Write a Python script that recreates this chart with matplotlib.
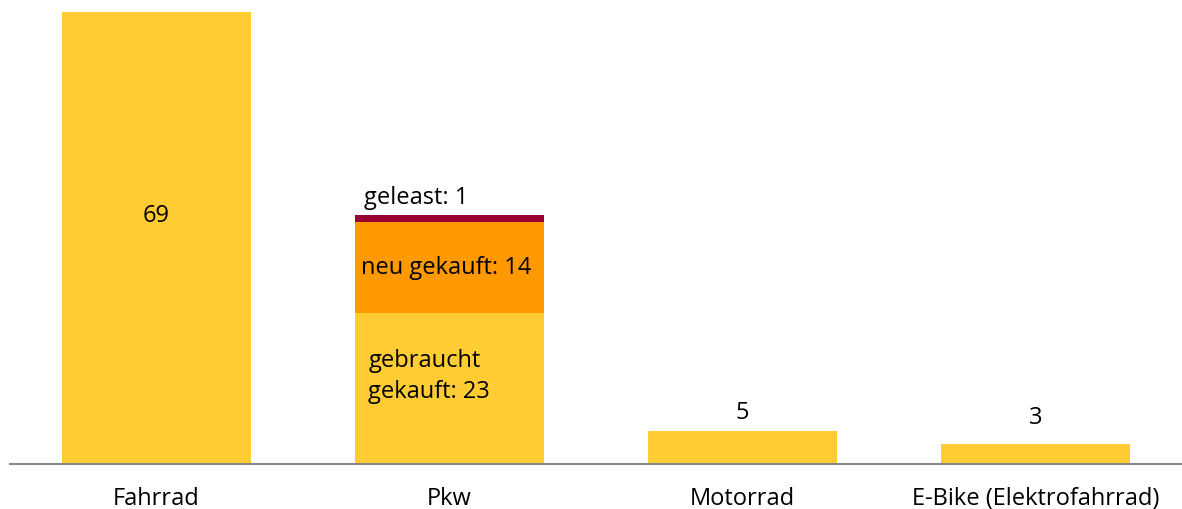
import matplotlib.pyplot as plt
import numpy as np

plt.rcParams['font.family'] = ['Open Sans', 'DejaVu Sans']

kategorien = ["Fahrrad", "Pkw", "Motorrad", "E-Bike (Elektrofahrrad)"]
gesamt = [69, 0, 5, 3]
pkw_gebraucht = 23
pkw_neu = 14
pkw_geleast = 1

gelb = "#FFCC33"
orange = "#FF9900"
rot = "#990033"

fig = plt.figure(figsize=(11.82, 5.10), dpi=100)
ax = fig.add_axes([10 / 1182, 45 / 510, 1172 / 1182, 452 / 510])

x = np.arange(len(kategorien))
breite = 0.645

ax.bar(x, gesamt, width=breite, color=gelb)
ax.bar(x[1], pkw_gebraucht, width=breite, color=gelb)
ax.bar(x[1], pkw_neu, bottom=pkw_gebraucht, width=breite, color=orange)
ax.bar(x[1], pkw_geleast, bottom=pkw_gebraucht + pkw_neu, width=breite, color=rot)

fs = 17
ax.text(x[0], 38, str(gesamt[0]), ha='center', va='center', fontsize=fs)
links = x[1] - breite / 2 + 0.045
ax.text(links, 13.5, "gebraucht\ngekauft: 23", ha='left', va='center',
        fontsize=fs, linespacing=1.35)
ax.text(x[1] - breite / 2 + 0.02, pkw_gebraucht + pkw_neu / 2, "neu gekauft: 14",
        ha='left', va='center', fontsize=fs)
ax.text(x[1] - breite / 2 + 0.03, 40.8, "geleast: 1", ha='left', va='center', fontsize=fs)
ax.text(x[2], gesamt[2] + 2.9, str(gesamt[2]), ha='center', va='center', fontsize=fs)
ax.text(x[3], gesamt[3] + 4.2, str(gesamt[3]), ha='center', va='center', fontsize=fs)

ax.set_xlim(-0.5, 3.5)
ax.set_ylim(0, 69)
ax.set_xticks(x)
ax.set_xticklabels(kategorien, fontsize=fs)
ax.tick_params(axis='x', length=0, pad=16)
ax.set_yticks([])
for s in ['top', 'right', 'left']:
    ax.spines[s].set_visible(False)
ax.spines['bottom'].set_color('#888888')
ax.spines['bottom'].set_linewidth(1.5)

fig.savefig("out.png", dpi=100)
